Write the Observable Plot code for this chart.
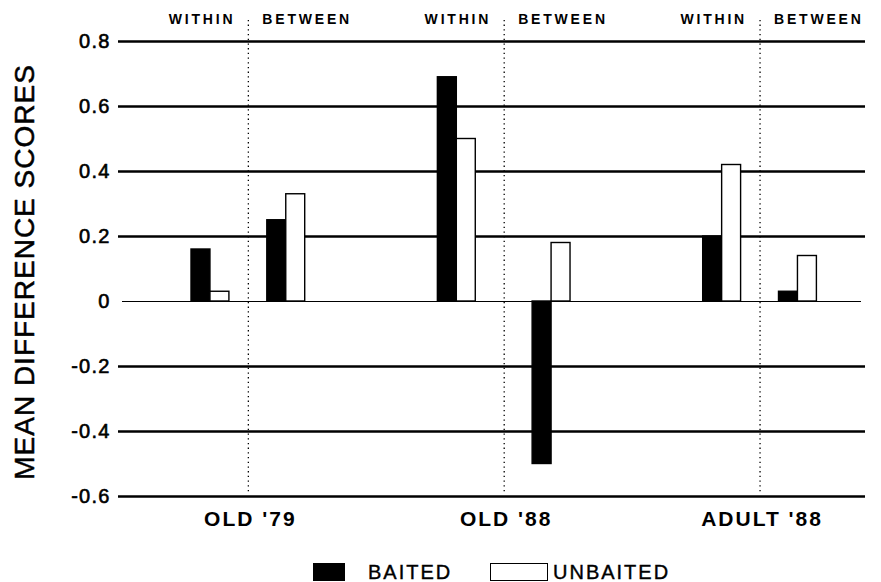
<!DOCTYPE html>
<html><head><meta charset="utf-8">
<script src="https://cdn.jsdelivr.net/npm/d3@7"></script>
<script src="https://cdn.jsdelivr.net/npm/@observablehq/plot@0.6"></script>
<style>
body{margin:0;background:#fff;font-family:"Liberation Sans",Arial,sans-serif;}
#wrap{position:relative;width:881px;height:582px;overflow:hidden;}
#legend{position:absolute;left:0;top:0;width:881px;height:582px;pointer-events:none;}
.sw{position:absolute;box-sizing:border-box;}
.lt{position:absolute;font-size:20px;letter-spacing:2px;line-height:20px;color:#000;white-space:nowrap;-webkit-text-stroke:0.4px #000;}
</style></head><body>
<div id="wrap"><div id="chart"></div><div id="legend"></div></div>
<script>
const groups = ["OLD '79", "OLD '88", "ADULT '88"];
const subgroups = ["WITHIN", "BETWEEN"];
const conditions = ["BAITED", "UNBAITED"];
// order: OLD'79 within, OLD'79 between, OLD'88 within, OLD'88 between, ADULT'88 within, ADULT'88 between
const baited   = [0.16, 0.25, 0.69, -0.50, 0.20, 0.03];
const unbaited = [0.03, 0.33, 0.50,  0.18, 0.42, 0.14];
const yTicks = [-0.6, -0.4, -0.2, 0, 0.2, 0.4, 0.6, 0.8];
const yTickLabels = ["-0.6", "-0.4", "-0.2", "0", "0.2", "0.4", "0.6", "0.8"];
const yLabel = "MEAN DIFFERENCE SCORES";

// layout of band slots: spacer slots before each group, and between its two subgroups
const lead = [0, 7, 7];
const gaps = [2, 3, 2];
const domain = [], sepKey = [];
let sp = 0;
const spacer = () => `_s${sp++}`;
groups.forEach((g, gi) => {
  for (let i = 0; i < lead[gi]; i++) domain.push(spacer());
  conditions.forEach(c => domain.push(`${g}|WITHIN|${c}`));
  const gk = d3.range(gaps[gi]).map(spacer);
  sepKey.push(gk[Math.floor((gaps[gi] - 1) / 2)]);
  domain.push(...gk);
  conditions.forEach(c => domain.push(`${g}|BETWEEN|${c}`));
});
const xRange = [191, 816.4];
const bw = (xRange[1] - xRange[0]) / domain.length;

const rows = [];
groups.forEach((g, gi) => subgroups.forEach((s, si) => {
  const k = gi * 2 + si;
  rows.push({key: `${g}|${s}|BAITED`, cond: "BAITED", value: baited[k]});
  rows.push({key: `${g}|${s}|UNBAITED`, cond: "UNBAITED", value: unbaited[k]});
}));

const sepMarks = groups.flatMap((g, gi) => {
  const dx = gaps[gi] % 2 === 0 ? bw / 2 : 0;
  return [
    Plot.ruleX([sepKey[gi]], {x: d => d, y1: 0.865, y2: -0.59, stroke: "black", strokeWidth: 1.3, strokeDasharray: "1.3,3.4", dx}),
    Plot.text([subgroups[0]], {x: () => sepKey[gi], text: d => d, frameAnchor: "top", dy: -27, dx: dx - 13, textAnchor: "end", fontSize: 14, fontWeight: "bold"}),
    Plot.text([subgroups[1]], {x: () => sepKey[gi], text: d => d, frameAnchor: "top", dy: -27, dx: dx + 14, textAnchor: "start", fontSize: 14, fontWeight: "bold"}),
    Plot.text([g], {x: () => sepKey[gi], text: d => d, frameAnchor: "bottom", dy: 29, dx: dx + 2, textAnchor: "middle", fontSize: 21, fontWeight: "bold"})
  ];
});

const chart = Plot.plot({
  width: 881, height: 548,
  marginTop: 41, marginBottom: 52, marginLeft: 118, marginRight: 16,
  style: {fontFamily: '"Liberation Sans", Arial, sans-serif', color: "black", background: "white"},
  x: {domain, range: xRange, padding: 0, round: false, axis: null},
  y: {domain: [-0.6, 0.8], axis: null},
  color: {domain: conditions, range: ["black", "white"]},
  marks: [
    Plot.ruleY(yTicks.filter(d => d !== 0), {stroke: "black", strokeWidth: 2.6}),
    Plot.ruleY([0], {stroke: "black", strokeWidth: 1.2, insetLeft: 4, insetRight: 4}),
    Plot.text(yTicks, {y: d => d, text: (d, i) => yTickLabels[i], frameAnchor: "left", dx: -8, textAnchor: "end", fontSize: 20, fill: "black", stroke: "black", strokeWidth: 0.6}),
    Plot.text([yLabel], {frameAnchor: "left", dx: -93, dy: 3, rotate: -90, textAnchor: "middle", fontSize: 28, fill: "black", stroke: "black", strokeWidth: 0.5}),
    Plot.barY(rows, {x: "key", y: "value", fill: "cond", stroke: "black", strokeWidth: 1.4, inset: 0}),
    ...sepMarks
  ]
});
// letter spacing for the typeset labels
const spacing = new Map([
  ...subgroups.map(s => [s, "2.8px"]),
  ...groups.map(g => [g, "2px"]),
  ...yTickLabels.map(t => [t, "1.2px"]),
  [yLabel, "1px"]
]);
d3.select(chart).selectAll("text").each(function() {
  const s = spacing.get(this.textContent);
  if (s) this.setAttribute("letter-spacing", s);
});
document.getElementById("chart").appendChild(chart);

const legend = document.getElementById("legend");
const items = [
  {label: conditions[0], swLeft: 313, swW: 32, textLeft: 368, fill: "black"},
  {label: conditions[1], swLeft: 490, swW: 58, textLeft: 553, fill: "white"}
];
items.forEach(it => {
  const sw = document.createElement("div");
  sw.className = "sw";
  Object.assign(sw.style, {left: it.swLeft + "px", top: "563px", width: it.swW + "px", height: "18px", background: it.fill, border: "1.5px solid black"});
  legend.appendChild(sw);
  const t = document.createElement("div");
  t.className = "lt";
  t.textContent = it.label;
  Object.assign(t.style, {left: it.textLeft + "px", top: "562px"});
  legend.appendChild(t);
});
</script>
</body></html>
